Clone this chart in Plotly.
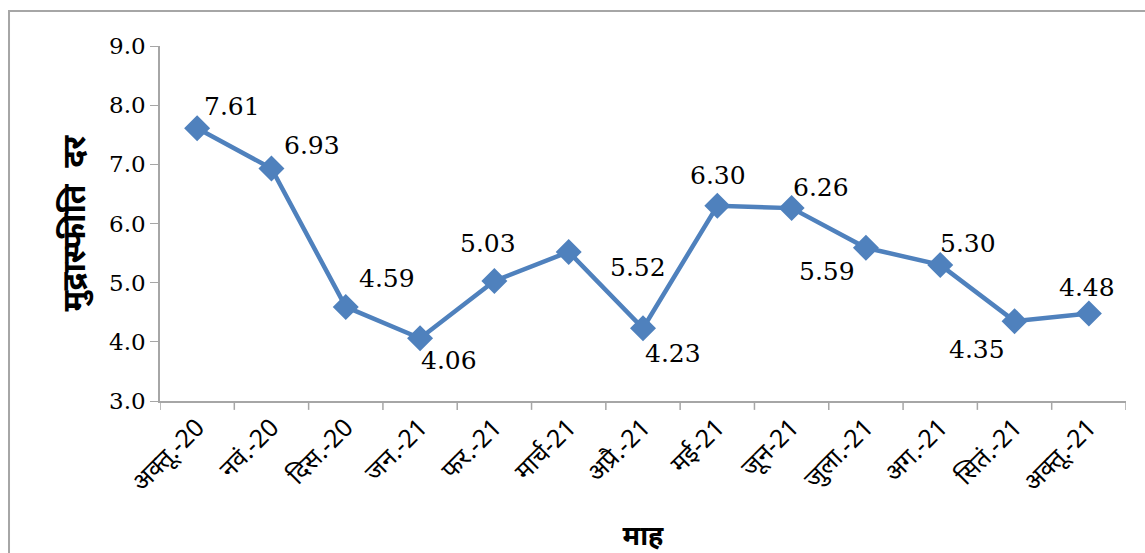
import plotly.graph_objects as go

# Monthly inflation rate (%)
months = ["अक्तू.-20", "नवं.-20", "दिस.-20", "जन.-21", "फर.-21", "मार्च-21", "अप्रै.-21",
          "मई-21", "जून-21", "जुला.-21", "अग.-21", "सितं.-21", "अक्तू.-21"]
inflation = [7.61, 6.93, 4.59, 4.06, 5.03, 5.52, 4.23, 6.30, 6.26, 5.59, 5.30, 4.35, 4.48]

# label offsets (px) for each data label
label_dx = [35, 41, 41, 29, -6, 69, 30, 1, 29, -39, 28, -38, -2]
label_dy = [22, 23, 28, -22, 37, -16, -25, 30, 21, -24, 21, -28, 26]

y_ticks = [3.0, 4.0, 5.0, 6.0, 7.0, 8.0, 9.0]

LINE = "#4F81BD"
AXIS = "#A6A6A6"
SERIF = "DejaVu Serif"
DEVA = "Noto Sans, sans-serif"

fig = go.Figure()
fig.add_trace(go.Scatter(
    x=list(range(len(months))), y=inflation,
    mode="lines+markers",
    line=dict(color=LINE, width=4.5),
    marker=dict(symbol="diamond", size=20, color=LINE),
    hoverinfo="skip",
))

for i, v in enumerate(inflation):
    fig.add_annotation(
        x=i, y=v, text=f"{v:.2f}", showarrow=False,
        xshift=label_dx[i], yshift=label_dy[i],
        font=dict(family=SERIF, size=25, color="black"),
    )

fig.update_layout(
    width=1145, height=553,
    margin=dict(l=160, r=19, t=46, b=152),
    paper_bgcolor="white", plot_bgcolor="white",
    showlegend=False,
    xaxis=dict(
        range=[-0.5, len(months) - 0.5], automargin=False,
        tickmode="array", tickvals=list(range(len(months))), ticktext=months,
        tickangle=-45, ticks="",
        showgrid=False, zeroline=False,
        showline=True, linecolor=AXIS, linewidth=1.5,
        tickfont=dict(family=DEVA, size=25, color="black"),
        title=dict(text="<b>माह</b>", font=dict(family=DEVA, size=27, color="black"), standoff=30),
    ),
    yaxis=dict(
        range=[3.0, 9.0], automargin=False,
        tickmode="array", tickvals=y_ticks, ticktext=[f"{t:.1f}" for t in y_ticks],
        ticks="outside", ticklen=8, tickcolor=AXIS,
        showgrid=False, zeroline=False,
        showline=True, linecolor=AXIS, linewidth=1.5,
        tickfont=dict(family=SERIF, size=23, color="black"),
        title=dict(text="<b>मुद्रास्फीति  दर</b>", font=dict(family=DEVA, size=32, color="black"), standoff=14),
    ),
)

# category separator ticks along the x axis
for k in range(len(months) + 1):
    fig.add_shape(type="line", xref="x", yref="paper",
                  x0=k - 0.5, x1=k - 0.5, y0=0, y1=-0.025,
                  line=dict(color=AXIS, width=1.5))

# chart frame
fig.add_shape(type="rect", xref="paper", yref="paper",
              x0=-0.1563, x1=1.05, y0=-0.6, y1=1.0986,
              line=dict(color=AXIS, width=2), fillcolor="rgba(0,0,0,0)", layer="below")

fig.write_html("out.html")
